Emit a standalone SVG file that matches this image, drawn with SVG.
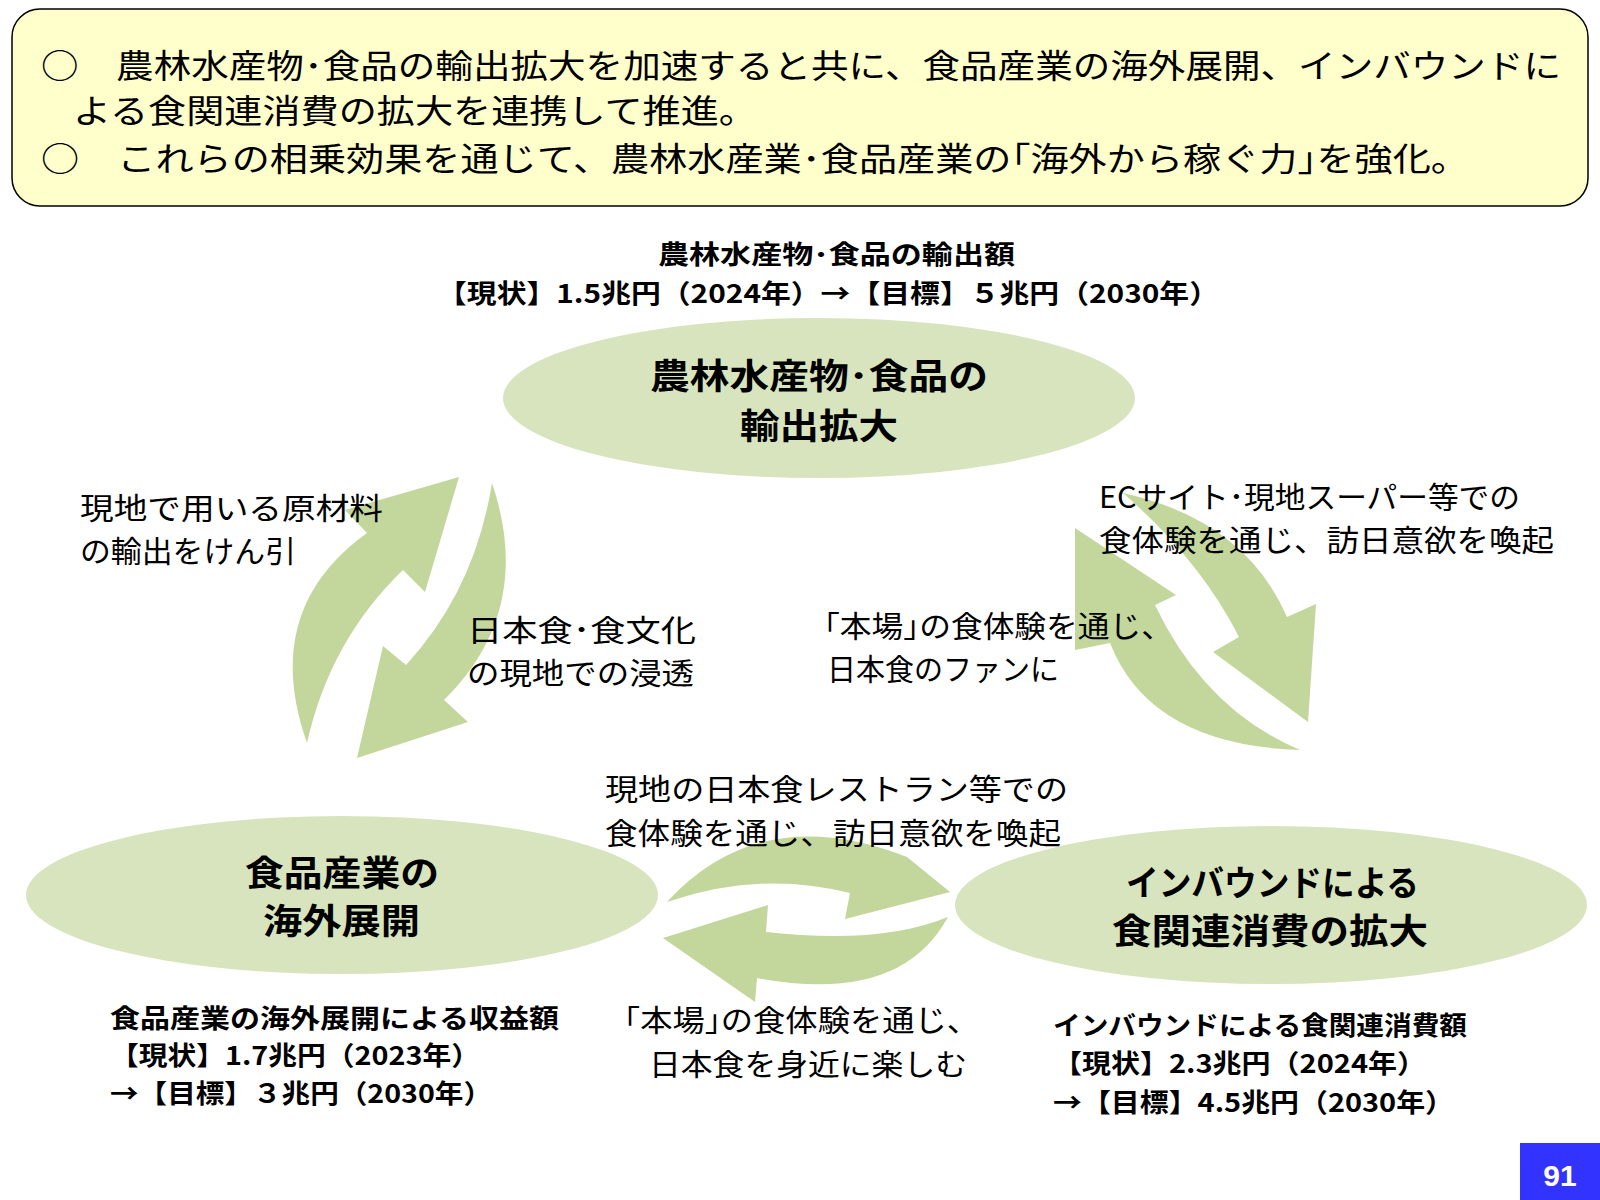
<svg xmlns="http://www.w3.org/2000/svg" width="1600" height="1200" viewBox="0 0 1600 1200">
<style>
text{font-family:"Noto Sans CJK JP","Noto Sans CJK SC",sans-serif;fill:#000}
.h{font-size:33px}
.l{font-size:30px}
.b{font-size:26px;font-weight:bold}
.n{font-size:35px;font-weight:bold}
.e{fill:#d7e4bd}
.a{fill:#c3d69b}
</style>
<rect width="1600" height="1200" fill="#fff"/>
<g id="header">
<rect x="12" y="9" width="1576" height="197" rx="28" fill="#ffffcc" stroke="#000" stroke-width="1.5"/>
<text class="h" x="41" y="78" textLength="1520" lengthAdjust="spacingAndGlyphs">○　農林水産物･食品の輸出拡大を加速すると共に、食品産業の海外展開、インバウンドに</text>
<text class="h" x="73" y="123" textLength="684" lengthAdjust="spacingAndGlyphs">よる食関連消費の拡大を連携して推進。</text>
<text class="h" x="41" y="171" textLength="1428" lengthAdjust="spacingAndGlyphs">○　これらの相乗効果を通じて、農林水産業･食品産業の｢海外から稼ぐ力｣を強化。</text>
</g>
<g id="connectors">
<path class="a" d="M307,743 Q260,610 367,533 L345,510 L459,477 L425,592 L403,570 Q330,640 307,743 Z"/>
<path class="a" d="M492,483 Q535,610 444,700 L468,722 L357,758 L383,646 L406,665 Q475,590 492,483 Z"/>
<path class="a" d="M1123,493 Q1245,520 1287,617 L1316,604 L1308,722 L1213,652 L1239,637 Q1200,560 1123,493 Z"/>
<path class="a" d="M1300,750 Q1150,745 1110,643 L1075,650 L1075,528 L1176,595 L1155,605 Q1205,710 1300,750 Z"/>
<path class="a" d="M667,902 Q760,800 907,857 L950,892 L845,919 L850,893 Q760,870 667,902 Z"/>
<path class="a" d="M663,938 L768,905 L766,932 Q880,945 948,917 Q900,1005 757,978 L755,1002 Z"/>
</g>
<g id="node-export">
<ellipse class="e" cx="819" cy="398" rx="316" ry="80"/>
<text class="n" x="650" y="389" textLength="338" lengthAdjust="spacingAndGlyphs">農林水産物･食品の</text>
<text class="n" x="740" y="439" textLength="158" lengthAdjust="spacingAndGlyphs">輸出拡大</text>
<text class="b" x="658" y="264" textLength="357" lengthAdjust="spacingAndGlyphs">農林水産物･食品の輸出額</text>
<text class="b" x="437" y="303" textLength="782" lengthAdjust="spacingAndGlyphs">【現状】1.5兆円（2024年）→【目標】５兆円（2030年）</text>
</g>
<g id="node-overseas">
<ellipse class="e" cx="342" cy="895" rx="316" ry="79"/>
<text class="n" x="245" y="886" textLength="194" lengthAdjust="spacingAndGlyphs">食品産業の</text>
<text class="n" x="263" y="934" textLength="157" lengthAdjust="spacingAndGlyphs">海外展開</text>
<text class="b" x="110" y="1028" textLength="449" lengthAdjust="spacingAndGlyphs">食品産業の海外展開による収益額</text>
<text class="b" x="110" y="1065" textLength="370" lengthAdjust="spacingAndGlyphs">【現状】1.7兆円（2023年）</text>
<text class="b" x="110" y="1103" textLength="382" lengthAdjust="spacingAndGlyphs">→【目標】３兆円（2030年）</text>
</g>
<g id="node-inbound">
<ellipse class="e" cx="1271" cy="905" rx="316" ry="79"/>
<text class="n" x="1126" y="896" textLength="293" lengthAdjust="spacingAndGlyphs">インバウンドによる</text>
<text class="n" x="1112" y="944" textLength="316" lengthAdjust="spacingAndGlyphs">食関連消費の拡大</text>
<text class="b" x="1053" y="1035" textLength="414" lengthAdjust="spacingAndGlyphs">インバウンドによる食関連消費額</text>
<text class="b" x="1053" y="1073" textLength="373" lengthAdjust="spacingAndGlyphs">【現状】2.3兆円（2024年）</text>
<text class="b" x="1053" y="1112" textLength="401" lengthAdjust="spacingAndGlyphs">→【目標】4.5兆円（2030年）</text>
</g>
<g id="labels">
<text class="l" x="80" y="519" textLength="303" lengthAdjust="spacingAndGlyphs">現地で用いる原材料</text>
<text class="l" x="80" y="562" textLength="216" lengthAdjust="spacingAndGlyphs">の輸出をけん引</text>
<text class="l" x="467" y="641" textLength="229" lengthAdjust="spacingAndGlyphs">日本食･食文化</text>
<text class="l" x="467" y="684" textLength="227" lengthAdjust="spacingAndGlyphs">の現地での浸透</text>
<text class="l" x="1099" y="508" textLength="421" lengthAdjust="spacingAndGlyphs">ECサイト･現地スーパー等での</text>
<text class="l" x="1099" y="551" textLength="455" lengthAdjust="spacingAndGlyphs">食体験を通じ、訪日意欲を喚起</text>
<text class="l" x="824" y="637" textLength="349" lengthAdjust="spacingAndGlyphs">｢本場｣の食体験を通じ、</text>
<text class="l" x="827" y="680" textLength="232" lengthAdjust="spacingAndGlyphs">日本食のファンに</text>
<text class="l" x="605" y="800" textLength="463" lengthAdjust="spacingAndGlyphs">現地の日本食レストラン等での</text>
<text class="l" x="605" y="844" textLength="456" lengthAdjust="spacingAndGlyphs">食体験を通じ、訪日意欲を喚起</text>
<text class="l" x="624" y="1031" textLength="355" lengthAdjust="spacingAndGlyphs">｢本場｣の食体験を通じ、</text>
<text class="l" x="649" y="1075" textLength="318" lengthAdjust="spacingAndGlyphs">日本食を身近に楽しむ</text>
</g>
<g id="page">
<rect x="1520" y="1143" width="80" height="57" fill="#3333ff"/>
<text x="1560" y="1186" text-anchor="middle" font-size="30" font-weight="bold" style="fill:#fff;font-family:'Liberation Sans',sans-serif">91</text>
</g>
</svg>
